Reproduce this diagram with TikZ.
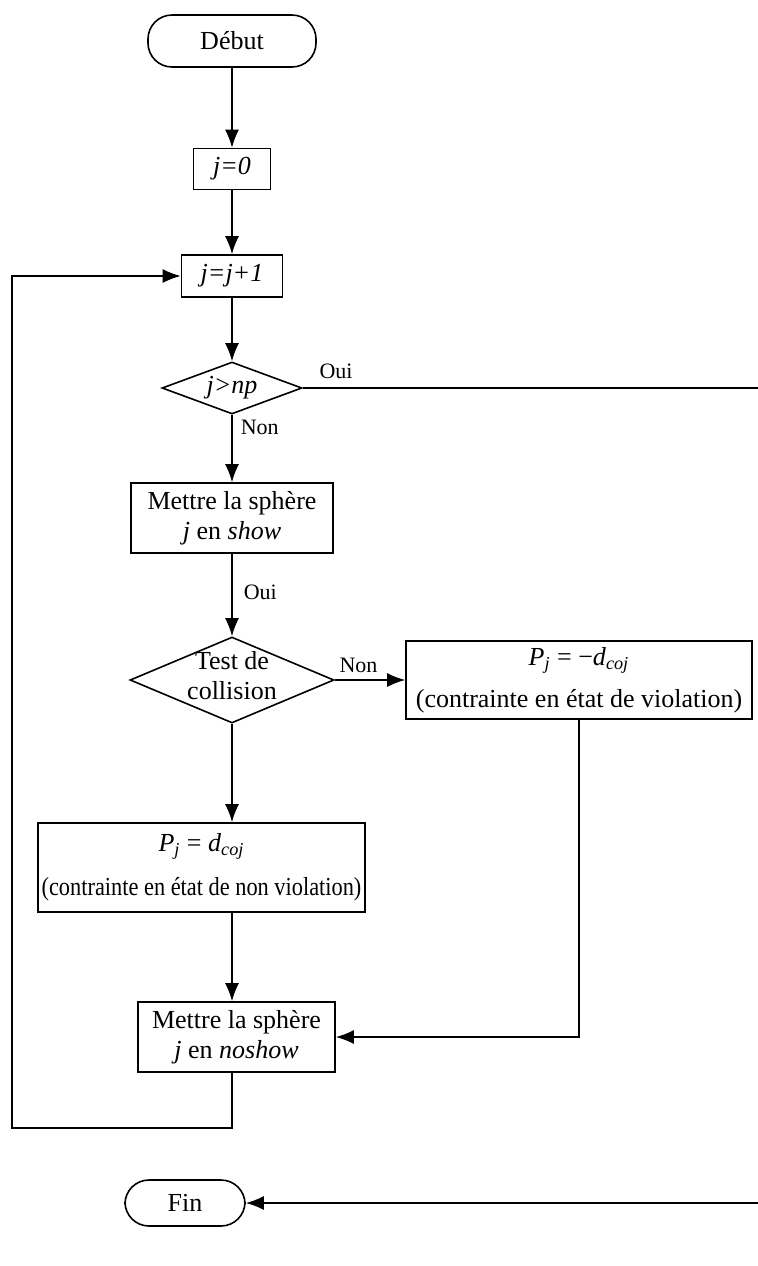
\documentclass[tikz,border=0pt]{standalone}
\usepackage{fontspec}
\usepackage{graphicx}
\setmainfont{Liberation Serif}
\usetikzlibrary{arrows.meta,shapes.geometric}
\begin{document}
\begin{tikzpicture}[x=0.5pt,y=-0.5pt, line width=0.8pt,
  >={Latex[length=9pt,width=7pt]},
  txt/.style={font=\fontsize{13}{15}\selectfont, align=center, inner sep=0pt},
  box/.style={txt, draw, rectangle},
  dia/.style={draw, diamond, inner sep=0pt},
  term/.style={txt, draw, rectangle, rounded corners=12pt},
  lbl/.style={font=\fontsize{11}{13}\selectfont, inner sep=0pt}]
\useasboundingbox (0,0) rectangle (758,1266);

\node[term, minimum width=84pt, minimum height=26pt] (debut) at (232,41) {Début};
\node[box, minimum width=38.5pt, minimum height=20.5pt] (j0) at (232,169) {\textit{j=0}};
\node[box, minimum width=50.5pt, minimum height=21pt] (jinc) at (232,276) {\textit{j=j+1}};
\node[dia, minimum width=70pt, minimum height=26pt] (d1) at (232,388) {};
\node[txt] (d1t) at (232,388) {\textit{j>np}};
\node[box, minimum width=101pt, minimum height=35pt] (show) at (232,518) {Mettre la sphère\\\textit{j} en \textit{show}};
\node[dia, minimum width=102pt, minimum height=43pt] (d2) at (232,680) {};
\node[txt] (d2t) at (232,676) {Test de\\collision};
\node[box, minimum width=173pt, minimum height=39pt, font=\fontsize{13}{21}\selectfont] (viol) at (579,680)
  {\textit{P}\textsubscript{\textit{j}} = −\textit{d}\textsubscript{\textit{coj}}\\(contrainte en état de violation)};
\node[box, minimum width=163.5pt, minimum height=44.5pt, font=\fontsize{13}{22}\selectfont] (nonviol) at (201.5,867.5)
  {\textit{P}\textsubscript{\textit{j}} = \textit{d}\textsubscript{\textit{coj}}\\\scalebox{0.86}[1]{(contrainte en état de non violation)}};
\node[box, minimum width=98.5pt, minimum height=35pt] (noshow) at (236.5,1037) {Mettre la sphère\\\textit{j} en \textit{noshow}};
\node[term, minimum width=60pt, minimum height=23pt] (fin) at (185,1203) {Fin};

\coordinate (R1) at (770,388);
\coordinate (R2) at (770,1203);
\coordinate (L1) at (12,1128);

\draw[->] (debut) -- (j0);
\draw[->] (j0) -- (jinc);
\draw[->] (jinc) -- (d1);
\draw[->] (d1) -- (show);
\node[lbl, anchor=north west] (non1) at ([xshift=4pt,yshift=-2pt]d1.south) {Non};
\draw[->] (d1.east) -- (R1) -- (R2) -- (fin.east);
\node[lbl, anchor=south west] (oui1) at ([xshift=8pt,yshift=4pt]d1.east) {Oui};
\draw[->] (show) -- (d2);
\node[lbl, anchor=west] (oui2) at (243,592) {Oui};
\draw[->] (d2.east) -- (viol.west);
\node[lbl, anchor=south west] (non2) at ([xshift=2pt,yshift=3pt]d2.east) {Non};
\draw[->] (d2.south) -- (d2.south |- nonviol.north);
\draw[->] (nonviol.south -| jinc) -- (noshow.north -| jinc);
\draw[->] (viol.south) |- (noshow.east);
\draw[->] (noshow.south -| jinc) |- (L1) |- (jinc.west);
\end{tikzpicture}
\end{document}
